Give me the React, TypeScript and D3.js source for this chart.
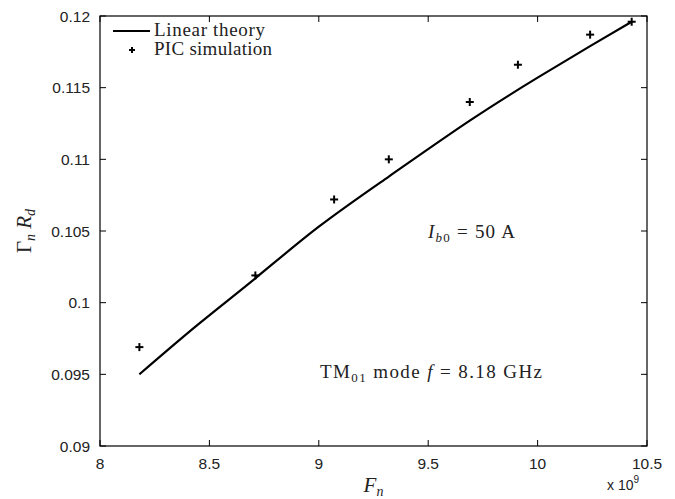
import React from "react";
import * as d3 from "d3";

// Beam-wave growth rate vs. normalized frequency parameter
const theoryF = [8.18, 8.45, 8.71, 9.0, 9.32, 9.69, 10.0, 10.24, 10.43];
const theoryG = [0.095, 0.0985, 0.1017, 0.1053, 0.1088, 0.1127, 0.1157, 0.1179, 0.1196];

const picF = [8.18, 8.71, 9.07, 9.32, 9.69, 9.91, 10.24, 10.43];
const picG = [0.0969, 0.1019, 0.1072, 0.11, 0.114, 0.1166, 0.1187, 0.1196];

const xTicks = [8, 8.5, 9, 9.5, 10, 10.5];
const xTickLabels = ["8", "8.5", "9", "9.5", "10", "10.5"];
const yTicks = [0.09, 0.095, 0.1, 0.105, 0.11, 0.115, 0.12];
const yTickLabels = ["0.09", "0.095", "0.1", "0.105", "0.11", "0.115", "0.12"];

const W = 675;
const H = 499;
const plot = { left: 100, right: 647, top: 16, bottom: 446 };

const sans = "'Liberation Sans', Arial, sans-serif";
const serif = "'Liberation Serif', 'Times New Roman', serif";

export default function App() {
  const x = d3.scaleLinear().domain([8, 10.5]).range([plot.left, plot.right]);
  const y = d3.scaleLinear().domain([0.09, 0.12]).range([plot.bottom, plot.top]);

  const line = d3
    .line<number>()
    .x((_, i) => x(theoryF[i]))
    .y((d) => y(d))
    .curve(d3.curveNatural);

  const tickLen = 6;
  const ms = 4;
  const cx = (plot.left + plot.right) / 2;
  const cy = (plot.top + plot.bottom) / 2;

  return (
    <svg
      width={W}
      height={H}
      style={{ position: "absolute", left: 0, top: 0, background: "#fff" }}
    >
      <rect x={0} y={0} width={W} height={H} fill="#fff" />

      {/* theory curve */}
      <path d={line(theoryG) || ""} fill="none" stroke="#000" strokeWidth={2.2} />

      {/* simulation markers */}
      {picF.map((f, i) => (
        <g key={i} stroke="#000" strokeWidth={2}>
          <line x1={x(f) - ms} x2={x(f) + ms} y1={y(picG[i])} y2={y(picG[i])} />
          <line x1={x(f)} x2={x(f)} y1={y(picG[i]) - ms} y2={y(picG[i]) + ms} />
        </g>
      ))}

      {/* axes box */}
      <rect
        x={plot.left}
        y={plot.top}
        width={plot.right - plot.left}
        height={plot.bottom - plot.top}
        fill="none"
        stroke="#000"
        strokeWidth={1.2}
      />

      {/* x ticks */}
      {xTicks.map((t, i) => (
        <g key={"x" + i}>
          <line x1={x(t)} x2={x(t)} y1={plot.bottom} y2={plot.bottom - tickLen} stroke="#000" />
          <line x1={x(t)} x2={x(t)} y1={plot.top} y2={plot.top + tickLen} stroke="#000" />
          <text
            x={x(t)}
            y={plot.bottom + 23}
            textAnchor="middle"
            fontFamily={sans}
            fontSize={15.5}
            fill="#222"
          >
            {xTickLabels[i]}
          </text>
        </g>
      ))}

      {/* y ticks */}
      {yTicks.map((t, i) => (
        <g key={"y" + i}>
          <line x1={plot.left} x2={plot.left + tickLen} y1={y(t)} y2={y(t)} stroke="#000" />
          <line x1={plot.right} x2={plot.right - tickLen} y1={y(t)} y2={y(t)} stroke="#000" />
          <text
            x={plot.left - 10}
            y={y(t) + 5.5}
            textAnchor="end"
            fontFamily={sans}
            fontSize={15.5}
            fill="#222"
          >
            {yTickLabels[i]}
          </text>
        </g>
      ))}

      {/* exponent label */}
      <text x={607} y={490} fontFamily={sans} fontSize={14} fill="#222">
        x 10
        <tspan dy={-7} fontSize={10}>9</tspan>
      </text>

      {/* axis labels */}
      <text
        x={cx}
        y={492}
        textAnchor="middle"
        fontFamily={serif}
        fontSize={21}
        fontStyle="italic"
        fill="#222"
      >
        F<tspan fontSize={14} dy={4}>n</tspan>
      </text>
      <text
        transform={`translate(31, ${cy}) rotate(-90)`}
        textAnchor="middle"
        fontFamily={serif}
        fontSize={21}
        fill="#222"
      >
        Γ<tspan fontSize={14} dy={4} fontStyle="italic">n</tspan>
        <tspan dy={-4} fontStyle="italic"> R</tspan>
        <tspan fontSize={14} dy={4} fontStyle="italic">d</tspan>
      </text>

      {/* legend */}
      <line x1={113} x2={150} y1={31} y2={31} stroke="#000" strokeWidth={2.2} />
      <text
        x={154}
        y={36}
        fontFamily={serif}
        fontSize={19}
        fill="#222"
        textLength={111}
        lengthAdjust="spacing"
      >
        Linear theory
      </text>
      <g stroke="#000" strokeWidth={2}>
        <line x1={132 - ms + 1} x2={132 + ms - 1} y1={50} y2={50} />
        <line x1={132} x2={132} y1={50 - ms + 1} y2={50 + ms - 1} />
      </g>
      <text
        x={154}
        y={55}
        fontFamily={serif}
        fontSize={19}
        fill="#222"
        textLength={118}
        lengthAdjust="spacing"
      >
        PIC simulation
      </text>

      {/* annotations */}
      <text
        x={428}
        y={238}
        fontFamily={serif}
        fontSize={19}
        fill="#222"
        textLength={87}
        lengthAdjust="spacing"
      >
        <tspan fontStyle="italic">I</tspan>
        <tspan fontSize={13} dy={4} fontStyle="italic">b</tspan>
        <tspan fontSize={13}>0</tspan>
        <tspan dy={-4}> = 50 A</tspan>
      </text>
      <text
        x={320}
        y={378}
        fontFamily={serif}
        fontSize={19}
        fill="#222"
        textLength={222}
        lengthAdjust="spacing"
      >
        TM<tspan fontSize={13} dy={4}>01</tspan>
        <tspan dy={-4}> mode </tspan>
        <tspan fontStyle="italic">f</tspan>
        <tspan> = 8.18 GHz</tspan>
      </text>
    </svg>
  );
}
